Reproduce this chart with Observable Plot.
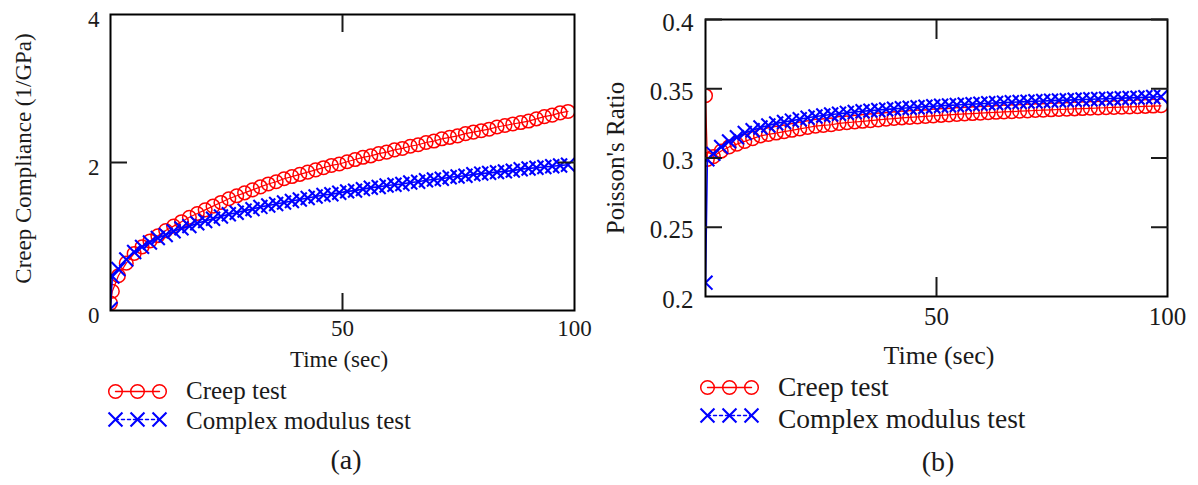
<!DOCTYPE html>
<html>
<head>
<meta charset="utf-8">
<script src="https://cdn.jsdelivr.net/npm/d3@7"></script>
<script src="https://cdn.jsdelivr.net/npm/@observablehq/plot@0.6"></script>
<style>
  html, body { margin: 0; padding: 0; background: #fff; }
  #fig { position: relative; width: 1198px; height: 485px; overflow: hidden;
         font-family: "Liberation Serif", "Times New Roman", serif; color: #1a1a1a; }
  #fig > * { position: absolute; }
  #fig svg text { font-family: "Liberation Serif", "Times New Roman", serif; }
  .txt { white-space: nowrap; line-height: 1; }
</style>
</head>
<body>
<div id="fig"></div>
<script>
// Sampling times (sec)
const time = [0, 0.4, 1.7, 3.4, 5.1, 6.8, 8.5, 10.2, 11.9, 13.6, 15.3, 17, 18.7, 20.4, 22.1, 23.8, 25.5, 27.2, 28.9,
  30.6, 32.3, 34, 35.7, 37.4, 39.1, 40.8, 42.5, 44.2, 45.9, 47.6, 49.3, 51, 52.7, 54.4, 56.1, 57.8, 59.5,
  61.2, 62.9, 64.6, 66.3, 68, 69.7, 71.4, 73.1, 74.8, 76.5, 78.2, 79.9, 81.6, 83.3, 85, 86.7, 88.4, 90.1,
  91.8, 93.5, 95.2, 96.9, 98.6];

// (a) Creep compliance, 1/GPa
const complianceCreep = [0.10, 0.26, 0.47, 0.64, 0.77, 0.86, 0.94, 1.01, 1.08, 1.14, 1.20, 1.26, 1.31, 1.36, 1.41,
  1.46, 1.51, 1.55, 1.59, 1.63, 1.67, 1.71, 1.74, 1.78, 1.81, 1.84, 1.87, 1.90, 1.93, 1.96, 1.98, 2.01, 2.04,
  2.07, 2.09, 2.12, 2.14, 2.17, 2.19, 2.22, 2.24, 2.27, 2.29, 2.32, 2.34, 2.36, 2.39, 2.41, 2.43, 2.45, 2.48,
  2.50, 2.52, 2.54, 2.56, 2.59, 2.62, 2.64, 2.67, 2.69];
const complianceComplex = [0.02, 0.46, 0.56, 0.69, 0.79, 0.86, 0.92, 0.98, 1.02, 1.07, 1.11, 1.14, 1.18, 1.21, 1.24,
  1.27, 1.30, 1.32, 1.35, 1.37, 1.40, 1.42, 1.44, 1.46, 1.48, 1.50, 1.52, 1.54, 1.56, 1.57, 1.59, 1.61, 1.62,
  1.64, 1.66, 1.67, 1.69, 1.70, 1.71, 1.73, 1.74, 1.76, 1.77, 1.78, 1.80, 1.81, 1.82, 1.84, 1.85, 1.86, 1.87,
  1.88, 1.89, 1.91, 1.92, 1.93, 1.94, 1.95, 1.96, 1.97];

// (b) Poisson's ratio
const poissonCreep = [0.345, 0.299, 0.301, 0.305, 0.308, 0.310, 0.312, 0.314, 0.316, 0.317, 0.318, 0.319, 0.320,
  0.321, 0.322, 0.323, 0.3235, 0.324, 0.325, 0.3255, 0.326, 0.3265, 0.327, 0.3275, 0.328, 0.3285, 0.329,
  0.3293, 0.3297, 0.330, 0.3304, 0.3308, 0.3311, 0.3315, 0.3318, 0.3321, 0.3324, 0.3327, 0.333, 0.3333,
  0.3335, 0.3338, 0.334, 0.3343, 0.3345, 0.3348, 0.335, 0.3352, 0.3355, 0.3357, 0.3359, 0.3361, 0.3363,
  0.3365, 0.3367, 0.3369, 0.3371, 0.3373, 0.3375, 0.3377];
const poissonComplex = [0.21, 0.299, 0.303, 0.308, 0.312, 0.315, 0.318, 0.320, 0.322, 0.3235, 0.325, 0.326, 0.327,
  0.328, 0.329, 0.330, 0.3307, 0.3314, 0.332, 0.3326, 0.3332, 0.3337, 0.3342, 0.3347, 0.3351, 0.3355,
  0.3359, 0.3363, 0.3367, 0.337, 0.3374, 0.3377, 0.338, 0.3383, 0.3386, 0.3389, 0.3392, 0.3395, 0.3397,
  0.34, 0.3402, 0.3405, 0.3407, 0.341, 0.3412, 0.3414, 0.3416, 0.3418, 0.342, 0.3422, 0.3424, 0.3426,
  0.3428, 0.343, 0.3432, 0.3434, 0.3436, 0.3438, 0.344, 0.3442];

// Axis ticks
const timeTickLabels = [50, 100];
const timeInnerTicks = [50];
const complianceTicks = [0, 2, 4];
const complianceInnerTicks = [2];
const poissonTicks = [0.2, 0.25, 0.3, 0.35, 0.4];
const poissonInnerTicks = [0.25, 0.3, 0.35, 0.4];

// Legend entries
const seriesNames = ["Creep test", "Complex modulus test"];
const swatchPoints = [0, 1, 2];

const RED = "#ff0000", BLUE = "#0000ff", INK = "#1a1a1a";
const SERIF = "Liberation Serif, Times New Roman, serif";
const fig = document.getElementById("fig");

function rows(values) {
  return time.map((t, i) => ({t, v: values[i]})).filter(d => d.v != null);
}

function place(el, left, top) {
  el.style.left = left + "px";
  el.style.top = top + "px";
  fig.appendChild(el);
  return el;
}

function label(text, left, top, size, center = false) {
  const d = document.createElement("div");
  d.className = "txt";
  d.textContent = text;
  d.style.fontSize = size + "px";
  place(d, left, top);
  if (center) d.style.transform = "translateX(-50%)";
  return d;
}

function panel(o) {
  const creep = rows(o.creep), complex = rows(o.complex);
  const textStyle = {fontFamily: SERIF, fontSize: o.fontSize, fill: INK};
  return Plot.plot({
    width: o.width, height: o.height,
    marginLeft: o.ml, marginRight: o.mr, marginTop: o.mt, marginBottom: o.mb,
    style: {fontFamily: SERIF, fontSize: o.fontSize + "px",
            color: INK, background: "transparent", overflow: "visible"},
    x: {domain: [0, 100], axis: null},
    y: {domain: o.yDomain, axis: null},
    marks: [
      Plot.line(creep, {x: "t", y: "v", stroke: RED, strokeWidth: 1.2, clip: true}),
      Plot.dot(creep, {x: "t", y: "v", r: 6.8, stroke: RED, strokeWidth: 1.5, clip: true}),
      Plot.line(complex, {x: "t", y: "v", stroke: BLUE, strokeWidth: 1.6, clip: true}),
      Plot.dot(complex, {x: "t", y: "v", symbol: "times", r: 6.4, stroke: BLUE, strokeWidth: 2.1, clip: true}),
      Plot.frame({stroke: "#000", strokeWidth: 2}),
      // inward-pointing ticks on all four sides
      Plot.axisY(o.innerTicks, {anchor: "left", tickSize: -17, strokeWidth: 2, tickFormat: () => "", label: null}),
      Plot.axisY(o.innerTicks, {anchor: "right", tickSize: -17, strokeWidth: 2, tickFormat: () => "", label: null}),
      Plot.axisX(timeInnerTicks, {anchor: "top", tickSize: -o.xTickLen, strokeWidth: 2, tickFormat: () => "", label: null}),
      Plot.axisX(timeInnerTicks, {anchor: "bottom", tickSize: -o.xTickLen, strokeWidth: 2, tickFormat: () => "", label: null}),
      // tick labels
      Plot.text(o.yTicks, {y: d => d, text: d => String(d), frameAnchor: "left", textAnchor: "end",
                           lineAnchor: "middle", dx: -o.yPad, dy: o.yLabelDy, ...textStyle}),
      Plot.text(timeTickLabels, {x: d => d, text: d => String(d), frameAnchor: "bottom", textAnchor: "middle",
                                 lineAnchor: "top", dy: o.xPad, ...textStyle}),
      // y-axis title
      Plot.text([o.yTitle], {frameAnchor: "left", textAnchor: "middle", lineAnchor: "middle",
                             rotate: -90, dx: o.titleDx, dy: o.titleDy,
                             fontFamily: SERIF, fontSize: o.titleSize, fill: INK})
    ]
  });
}

function swatch(kind) {
  const pts = swatchPoints.map(x => ({x, y: 0}));
  const isCreep = kind === "creep";
  return Plot.plot({
    width: 62, height: 24, marginLeft: 9, marginRight: 9, marginTop: 12, marginBottom: 12,
    style: {background: "transparent", overflow: "visible"},
    x: {domain: [0, 2], axis: null},
    y: {domain: [-1, 1], axis: null},
    marks: isCreep
      ? [Plot.line(pts, {x: "x", y: "y", stroke: RED, strokeWidth: 1.4}),
         Plot.dot(pts, {x: "x", y: "y", r: 6.8, stroke: RED, strokeWidth: 1.5})]
      : [Plot.line(pts, {x: "x", y: "y", stroke: BLUE, strokeWidth: 1.4, strokeDasharray: "3,3"}),
         Plot.dot(pts, {x: "x", y: "y", symbol: "times", r: 6.4, stroke: BLUE, strokeWidth: 2.1})]
  });
}

// ---- Panel (a): creep compliance ----
place(panel({
  width: 600, height: 345, ml: 110, mr: 26, mt: 14, mb: 35,
  yDomain: [0, 4], yTicks: complianceTicks, innerTicks: complianceInnerTicks,
  creep: complianceCreep, complex: complianceComplex,
  fontSize: 23, yPad: 11, yLabelDy: 5, xPad: 9, xTickLen: 17,
  yTitle: "Creep Compliance (1/GPa)", titleSize: 23, titleDx: -87, titleDy: -4
}), 0, 0);

// ---- Panel (b): Poisson's ratio ----
place(panel({
  width: 598, height: 345, ml: 105, mr: 31, mt: 19, mb: 49,
  yDomain: [0.2, 0.4], yTicks: poissonTicks, innerTicks: poissonInnerTicks,
  creep: poissonCreep, complex: poissonComplex,
  fontSize: 25, yPad: 12, yLabelDy: 3, xPad: 11, xTickLen: 19,
  yTitle: "Poisson's Ratio", titleSize: 25, titleDx: -90, titleDy: 0
}), 600, 0);

// ---- Axis titles, legends and captions ----
label("Time (sec)", 339, 348, 23, true);
place(swatch("creep"), 106, 379);
place(swatch("complex"), 106, 407);
label(seriesNames[0], 186, 378, 25);
label(seriesNames[1], 186, 408, 25);
label("(a)", 346, 446, 28, true);

label("Time (sec)", 939, 343, 26, true);
place(swatch("creep"), 698, 375);
place(swatch("complex"), 698, 403);
label(seriesNames[0], 778, 373, 27.5);
label(seriesNames[1], 778, 405, 27.5);
label("(b)", 938, 448, 28, true);
</script>
</body>
</html>
